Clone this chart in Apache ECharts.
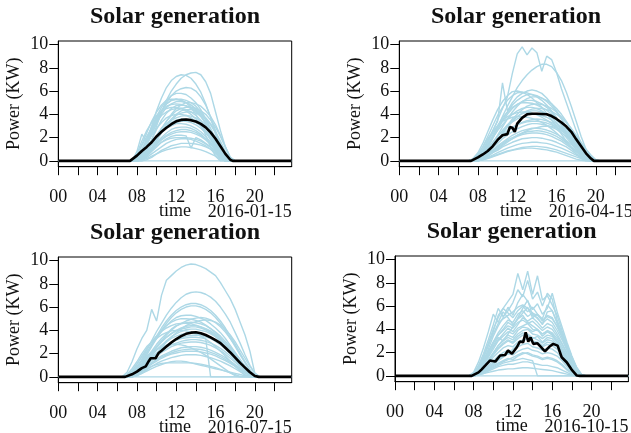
<!DOCTYPE html>
<html>
<head>
<meta charset="utf-8">
<script src="https://cdn.jsdelivr.net/npm/echarts@6/dist/echarts.min.js"></script>
<style>
html,body{margin:0;padding:0;background:#fff;}
#chart{width:631px;height:433px;}
</style>
</head>
<body>
<div id="chart"></div>
<script>
// ---------- DATA ----------
const panelTitles = ['Solar generation','Solar generation','Solar generation','Solar generation'];
const panelDates = ['2016-01-15','2016-04-15','2016-07-15','2016-10-15'];
const xTickValues = [0,2,4,6,8,10,12,14,16,18,20,22];
const xLabelValues = [0,4,8,12,16,20];
const yTickValues = [0,2,4,6,8,10];
const dayStart = 0, dayEnd = 23.75, nightValue = 0;

// January households (half-hourly, 7.5h .. 18h)
const janTime = [7.5,8,8.5,9,9.5,10,10.5,11,11.5,12,12.5,13,13.5,14,14.5,15,15.5,16,16.5,17,17.5,18];
const janLines = [
 [0,0,0.3,0.9,1.8,3.0,4.2,5.2,6.0,6.6,7.1,7.4,7.55,7.6,7.4,6.8,5.8,4.2,2.6,1.2,0.2,0],
 [0,0.2,0.8,1.8,3.0,4.3,5.4,6.3,6.9,7.25,7.4,7.35,7.1,6.6,5.9,4.9,3.7,2.3,1.0,0.2,0,0],
 [0,0.1,0.5,1.3,2.3,3.3,4.2,5.0,5.6,6.0,6.2,6.3,6.25,6.0,5.5,4.8,3.8,2.6,1.4,0.5,0,0],
 [0,0.3,1.0,1.9,2.9,3.8,4.6,5.2,5.6,5.8,5.8,5.7,5.4,5.0,4.4,3.6,2.7,1.7,0.8,0.1,0,0],
 [0,0.4,1.4,2.4,3.4,4.2,4.8,5.2,5.3,5.3,5.2,5.0,4.8,4.4,3.9,3.2,2.4,1.5,0.6,0,0,0],
 [0,0.1,0.6,1.4,2.3,3.2,4.0,4.6,4.9,5.1,5.1,5.0,4.8,4.5,4.1,3.5,2.7,1.8,0.9,0.2,0,0],
 [0,0,0.3,1.0,1.8,2.7,3.5,4.1,4.5,4.75,4.8,4.75,4.6,4.3,3.9,3.3,2.6,1.8,1.0,0.3,0,0],
 [0,0.5,1.3,2.1,2.8,3.4,3.9,4.2,4.4,4.5,4.5,4.4,4.2,3.9,3.5,2.9,2.2,1.4,0.6,0,0,0],
 [0,0,0,0.4,1.0,1.7,2.4,3.0,3.5,3.9,4.1,4.2,4.2,4.1,3.9,3.6,3.1,2.4,1.5,0.6,0.1,0],
 [0,0.2,0.8,1.5,2.2,2.8,3.3,3.7,3.9,4.0,4.0,3.9,3.7,3.4,3.0,2.5,1.9,1.2,0.5,0,0,0],
 [0,0,0.3,0.8,1.4,2.0,2.5,3.0,3.3,3.5,3.6,3.6,3.5,3.3,3.0,2.6,2.1,1.5,0.8,0.2,0,0],
 [0,0.1,0.5,1.0,1.5,2.0,2.4,2.8,3.0,3.2,3.2,3.15,3.0,2.8,2.5,2.1,1.6,1.0,0.4,0,0,0],
 [0,0,0.2,0.6,1.1,1.6,2.0,2.4,2.7,2.85,2.9,2.9,2.8,2.6,2.3,1.9,1.5,1.0,0.5,0.1,0,0],
 [0,0,0.2,0.6,1.0,1.4,1.8,2.1,2.3,2.45,2.5,2.5,2.45,2.3,2.1,1.8,1.4,0.9,0.4,0,0,0],
 [0,0,0.1,0.4,0.8,1.2,1.6,1.9,2.1,2.2,2.2,2.15,1.1,2.0,1.8,1.5,1.2,0.8,0.3,0,0,0],
 [0,0,0.1,0.3,0.6,0.9,1.2,1.5,1.7,1.85,1.9,1.9,1.85,1.7,1.5,1.3,1.0,0.6,0.2,0,0,0],
 [0,0,0,0.1,0.3,0.6,0.9,1.1,1.3,1.4,1.5,1.5,1.5,1.45,1.35,1.2,1.0,0.7,0.3,0,0,0],
 [0,0.8,2.3,1.6,2.6,3.5,4.3,4.9,5.2,5.3,5.2,5.0,4.6,4.0,3.2,2.2,1.2,0.4,0,0,0,0],
 [0,0,0,0,0,0,0,0,0,0,0,0,0,0,0,0,0,0,0,0,0,0],
 [0,0,0.2,0.7,1.4,2.1,2.8,3.4,3.9,4.3,4.5,4.6,4.6,4.5,4.3,4.0,3.5,2.9,2.1,1.2,0.3,0],
 [0,0,0.1,0.5,1.1,1.9,2.7,3.4,4.0,4.5,4.8,5.0,5.0,4.9,4.7,4.3,3.8,3.1,2.2,1.2,0.3,0],
 [0,0.1,0.4,1.0,1.6,2.2,2.8,3.2,3.5,3.7,3.85,3.9,3.85,3.7,3.45,3.1,2.6,2.0,1.3,0.5,0,0],
 [0,0.2,0.9,1.8,2.8,3.7,4.3,4.7,4.85,4.9,4.85,4.7,4.5,4.2,3.8,3.2,2.5,1.6,0.8,0.1,0,0],
 [0,0,0.1,0.5,1.1,1.8,2.5,3.1,3.6,4.0,4.3,4.4,4.4,4.3,4.1,3.7,3.2,2.5,1.7,0.8,0.1,0],
 [0,0.1,0.5,1.1,1.6,2.1,2.5,2.9,3.15,3.3,3.4,3.4,3.3,3.1,2.8,2.4,1.9,1.3,0.6,0.1,0,0],
 [0,0,0.3,0.7,1.1,1.5,1.9,2.2,2.45,2.6,2.7,2.7,2.6,2.45,2.2,1.9,1.5,1.0,0.5,0,0,0],
 [0,0.1,0.6,1.5,2.5,3.5,4.3,4.9,5.2,5.3,5.3,5.2,5.0,4.7,4.2,3.6,2.8,1.9,1.0,0.3,0,0],
 [0,0.6,1.7,2.6,3.3,3.9,4.3,4.5,4.6,4.6,4.5,4.3,4.0,3.6,3.1,2.5,1.8,1.1,0.4,0,0,0],
 [0,0,0.2,0.5,0.9,1.3,1.6,1.8,1.95,2.0,2.0,2.0,1.95,1.85,1.7,1.45,1.15,0.8,0.35,0,0,0],
 [0,0,0.1,0.2,0.4,0.6,0.8,0.95,1.05,1.15,1.2,1.2,1.15,1.05,0.95,0.8,0.6,0.4,0.15,0,0,0]
];
const janMeanTime = [7.3,7.5,8,8.5,9,9.5,10,10.5,11,11.5,12,12.5,13,13.5,14,14.5,15,15.5,16,16.5,17,17.5,17.75,18];
const janMean = [0,0.1,0.45,0.85,1.2,1.6,2.1,2.5,2.85,3.15,3.4,3.52,3.55,3.5,3.38,3.18,2.88,2.45,1.9,1.25,0.6,0.1,0,0];

// April households (half-hourly, 7h .. 20.5h)
const aprTime = [7,7.5,8,8.5,9,9.5,10,10.5,11,11.5,12,12.5,13,13.5,14,14.5,15,15.5,16,16.5,17,17.5,18,18.5,19,19.5,20,20.5];
const aprLines = [
 [0,0,0.3,0.8,1.6,2.5,3.5,4.5,5.5,7.5,9.2,9.8,9.1,9.7,9.3,7.7,9.0,8.7,7.6,6.2,5.0,3.8,2.6,1.5,0.6,0.1,0,0],
 [0,0,0.2,0.6,1.2,2.0,2.9,3.8,4.7,5.5,6.3,6.9,7.4,7.8,8.1,8.3,8.3,8.1,7.6,6.9,5.9,4.7,3.4,2.1,1.0,0.3,0,0],
 [0,0,0.3,0.9,1.7,2.6,3.4,6.7,4.3,5.0,5.5,5.8,6.0,6.1,6.0,5.8,5.4,4.9,4.3,3.6,2.9,2.2,1.5,0.9,0.4,0.1,0,0],
 [0,0.1,0.5,1.2,2.1,3.0,3.9,4.6,5.2,5.6,5.85,5.9,5.85,5.7,5.5,5.2,4.8,4.3,3.7,3.0,2.3,1.6,1.0,0.5,0.1,0,0,0],
 [0,0,0.1,0.4,0.9,1.5,2.2,2.9,3.6,4.2,4.7,5.1,5.35,5.5,5.5,5.4,5.2,4.9,4.5,4.0,3.4,2.7,2.0,1.3,0.7,0.2,0,0],
 [0,0,0.2,0.7,1.3,2.0,2.7,3.4,4.0,4.5,4.85,5.1,5.2,5.2,5.1,4.9,4.6,4.2,3.7,3.1,2.5,1.8,1.2,0.6,0.2,0,0,0],
 [0,0,0,0.2,0.6,1.1,1.7,2.4,3.0,3.6,4.0,4.4,4.7,4.85,4.9,4.85,4.7,4.5,4.2,3.8,3.3,2.7,2.1,1.5,0.9,0.4,0.05,0],
 [0,0,0.3,0.8,1.4,2.0,2.6,3.1,3.6,4.0,4.3,4.5,4.6,4.6,4.5,4.3,4.0,3.7,3.3,2.8,2.3,1.7,1.2,0.7,0.3,0,0,0],
 [0,0,0.1,0.5,1.0,1.5,2.1,2.6,3.1,3.5,3.8,4.05,4.2,4.3,4.3,4.2,4.0,3.8,3.5,3.1,2.7,2.2,1.6,1.1,0.6,0.2,0,0],
 [0,0,0.2,0.6,1.1,1.6,2.1,2.6,3.0,3.35,3.6,3.8,3.95,4.0,4.0,3.9,3.75,3.5,3.2,2.85,2.4,1.9,1.4,0.9,0.4,0.1,0,0],
 [0,0,0.1,0.4,0.8,1.2,1.7,2.1,2.5,2.85,3.1,3.3,3.45,3.55,3.6,3.55,3.45,3.3,3.05,2.75,2.4,2.0,1.5,1.0,0.5,0.15,0,0],
 [0,0,0.1,0.3,0.7,1.1,1.5,1.9,2.2,2.5,2.75,2.95,3.1,3.2,3.2,3.15,3.05,2.9,2.7,2.4,2.1,1.7,1.3,0.9,0.5,0.1,0,0],
 [0,0,0.1,0.3,0.6,0.9,1.3,1.6,1.9,2.2,2.4,2.6,2.7,2.8,2.8,2.75,2.65,2.5,2.3,2.05,1.75,1.4,1.0,0.6,0.25,0,0,0],
 [0,0,0,0.2,0.5,0.8,1.1,1.4,1.7,1.9,2.1,2.25,2.35,2.4,2.4,2.35,2.25,2.1,1.9,1.7,1.4,1.1,0.8,0.5,0.2,0,0,0],
 [0,0,0,0.2,0.4,0.7,0.9,1.2,1.4,1.6,1.75,1.9,1.95,2.0,2.0,1.95,1.85,1.75,1.6,1.4,1.2,0.9,0.6,0.35,0.1,0,0,0],
 [0,0,0,0.1,0.3,0.5,0.7,0.9,1.1,1.25,1.4,1.5,1.55,1.6,1.6,1.55,1.5,1.4,1.25,1.1,0.9,0.7,0.5,0.3,0.1,0,0,0],
 [0,0,0,0.1,0.2,0.35,0.5,0.65,0.8,0.9,1.0,1.05,1.1,1.1,1.05,1.0,0.95,0.85,0.75,0.6,0.45,0.3,0.15,0.05,0,0,0,0],
 [0,0,0,0,0,0,0,0,0,0,0,0,0,0,0,0,0,0,0,0,0,0,0,0,0,0,0,0],
 [0,0.2,0.7,1.5,2.5,3.5,4.4,5.1,5.6,5.95,6.0,5.9,5.7,5.4,5.0,4.6,4.1,3.5,2.9,2.3,1.7,1.1,0.6,0.2,0,0,0,0],
 [0,0.1,0.6,1.2,1.9,2.5,3.0,3.4,3.6,3.75,3.8,3.8,3.75,3.65,3.5,3.3,3.05,2.75,2.4,2.0,1.6,1.2,0.8,0.4,0.1,0,0,0],
 [0,0,0.2,0.7,1.4,2.2,3.0,3.7,4.2,4.6,4.85,5.0,5.0,4.95,4.8,4.6,4.35,4.0,3.6,3.1,2.5,1.9,1.3,0.7,0.3,0,0,0],
 [0,0,0,0.2,0.6,1.1,1.7,2.3,2.9,3.4,3.8,4.1,4.3,4.45,4.5,4.5,4.4,4.25,4.0,3.7,3.3,2.8,2.2,1.6,1.0,0.5,0.1,0],
 [0,0,0.1,0.4,0.8,1.3,1.8,2.2,2.6,2.9,3.1,3.25,3.35,3.4,3.4,3.35,3.25,3.1,2.9,2.6,2.25,1.85,1.4,0.95,0.5,0.15,0,0],
 [0,0,0.2,0.6,1.2,1.9,2.7,3.5,4.2,4.8,5.2,5.5,5.7,5.7,5.6,5.4,5.1,4.7,4.2,3.6,2.9,2.2,1.5,0.8,0.3,0,0,0],
 [0,0.1,0.4,1.0,1.7,2.4,3.0,3.5,3.8,4.0,4.15,4.2,4.2,4.1,3.95,3.75,3.5,3.2,2.85,2.45,2.0,1.5,1.0,0.55,0.2,0,0,0],
 [0,0,0.1,0.3,0.6,0.9,1.2,1.5,1.8,2.0,2.2,2.35,2.5,2.55,2.6,2.55,2.45,2.3,2.1,1.85,1.55,1.2,0.85,0.5,0.2,0,0,0],
 [0,0,0,0.2,0.4,0.7,1.0,1.3,1.6,1.9,2.2,2.4,2.6,2.75,2.85,2.95,3.0,2.95,2.85,2.7,2.45,2.1,1.7,1.25,0.8,0.35,0.05,0],
 [0,0,0,0.1,0.25,0.4,0.55,0.7,0.85,0.95,1.05,1.15,1.2,1.25,1.25,1.2,1.15,1.05,0.95,0.8,0.65,0.5,0.35,0.2,0.05,0,0,0]
];
const aprMeanTime = [7.3,7.5,8,8.5,9,9.5,10,10.5,11,11.25,11.5,11.75,12,12.5,13,13.5,14,14.5,15,15.5,16,16.5,17,17.5,18,18.5,19,19.5,19.8];
const aprMean = [0,0.08,0.3,0.55,0.85,1.25,1.8,2.2,2.3,2.9,2.85,2.5,3.2,3.7,4.0,4.05,4.05,4.03,4.0,3.85,3.6,3.3,2.95,2.5,1.85,1.25,0.65,0.2,0];

// July households (half-hourly, 6.5h .. 21h)
const julTime = [6.5,7,7.5,8,8.5,9,9.5,10,10.5,11,11.5,12,12.5,13,13.5,14,14.5,15,15.5,16,16.5,17,17.5,18,18.5,19,19.5,20,20.5,21];
const julLines = [
 [0,0.4,1.3,2.4,3.3,4.0,5.8,4.8,7.0,8.3,8.7,9.1,9.4,9.6,9.7,9.65,9.5,9.3,9.0,8.7,8.1,7.4,6.7,5.8,4.7,3.6,2.2,0.3,0,0],
 [0,0,0.3,0.8,1.5,2.3,3.1,3.9,4.6,5.3,5.9,6.4,6.8,7.1,7.25,7.3,7.25,7.1,6.85,6.5,6.0,5.4,4.7,3.8,2.9,1.9,1.0,0.3,0,0],
 [0,0,0.3,0.8,1.4,2.1,2.8,3.5,4.2,4.8,5.3,5.7,6.0,6.2,6.3,6.3,6.2,6.0,5.7,5.3,4.8,4.2,3.5,2.8,2.0,1.3,0.6,0.1,0,0],
 [0,0,0.2,0.6,1.2,1.9,2.6,3.3,4.0,4.6,5.1,5.5,5.8,6.0,6.1,6.1,6.0,5.8,5.5,5.1,4.6,4.0,3.3,2.6,1.9,1.2,0.5,0.1,0,0],
 [0,0,0.3,0.8,1.4,2.0,2.7,3.3,3.9,4.4,4.8,5.1,5.25,5.3,5.3,5.2,5.05,4.85,4.55,4.2,3.8,3.3,2.7,2.1,1.5,0.9,0.4,0,0,0],
 [0,0.1,0.5,1.1,1.7,2.4,3.0,3.5,4.0,4.4,4.7,4.9,5.0,5.0,4.95,4.85,4.7,4.45,4.15,3.8,3.35,2.85,2.3,1.7,1.1,0.6,0.2,0,0,0],
 [0,0,0.2,0.6,1.1,1.7,2.2,2.8,3.3,3.7,4.1,4.4,4.55,4.65,4.7,4.65,4.55,4.4,4.15,3.85,3.5,3.05,2.55,2.0,1.45,0.9,0.4,0.1,0,0],
 [0,0,0.2,0.5,1.0,1.5,2.0,2.5,3.0,3.4,3.75,4.0,4.2,4.35,4.4,4.4,4.3,4.15,3.95,3.65,3.3,2.9,2.4,1.9,1.35,0.8,0.35,0.05,0,0],
 [0,0,0.1,0.4,0.8,1.3,1.8,2.3,2.7,3.1,3.45,3.7,3.9,4.05,4.1,4.1,4.0,3.9,3.7,3.45,3.15,2.8,2.35,1.9,1.4,0.9,0.45,0.1,0,0],
 [0,0,0.2,0.6,1.0,1.5,1.9,2.3,2.7,3.0,3.3,3.5,3.65,3.75,3.8,3.75,3.65,3.5,3.3,3.05,2.75,2.4,2.0,1.55,1.1,0.65,0.25,0,0,0],
 [0,0,0.1,0.4,0.8,1.2,1.6,2.0,2.4,2.7,2.95,3.15,3.3,3.35,3.4,3.4,3.35,3.3,0,0,0,0,0,0,0,0,0,0,0,0],
 [0,0,0.1,0.3,0.7,1.0,1.4,1.75,2.1,2.35,2.6,2.75,2.9,2.95,3.0,3.0,2.95,2.85,2.7,2.5,2.25,1.95,1.6,1.25,0.9,0.55,0.2,0,0,0],
 [0,0,0.1,0.3,0.6,0.9,1.2,1.5,1.8,2.0,2.2,2.35,2.5,2.55,2.6,2.6,2.55,2.45,2.3,2.1,1.9,1.65,1.35,1.05,0.75,0.45,0.15,0,0,0],
 [0,0,0,0.2,0.5,0.8,1.1,1.35,1.6,1.8,1.95,2.05,2.15,2.2,2.2,2.2,2.15,2.05,1.95,1.8,1.6,1.4,1.15,0.9,0.6,0.35,0.1,0,0,0],
 [0,0,0,0.2,0.4,0.7,0.9,1.15,1.35,1.5,1.65,1.75,1.85,1.9,1.9,1.9,1.85,1.75,1.65,1.5,1.35,1.15,0.95,0.7,0.45,0.2,0,0,0,0],
 [0,0,0,0.1,0.3,0.6,0.9,1.05,1.15,1.2,1.2,1.2,1.2,1.2,1.2,1.15,1.1,1.0,0.9,0.8,0.65,0.5,0.35,0.2,0.05,0,0,0,0,0],
 [0,0,0,0,0,0,0,0,0,0,0,0,0,0,0,0,0,0,0,0,0,0,0,0,0,0,0,0,0,0],
 [0,0.2,0.7,1.3,2.0,2.6,3.0,3.3,3.6,3.8,3.95,4.0,4.0,3.95,3.85,3.7,3.5,3.25,2.95,2.6,2.2,1.8,1.35,0.9,0.5,0.15,0,0,0,0],
 [0,0,0,0.2,0.6,1.0,1.5,2.0,2.5,3.0,3.4,3.8,4.1,4.4,4.6,4.75,4.85,4.9,4.85,4.7,4.45,4.1,3.6,3.0,2.3,1.6,0.9,0.3,0,0],
 [0,0,0.2,0.6,1.1,1.6,2.1,2.6,3.0,3.4,3.7,3.95,4.1,4.2,4.3,4.3,4.2,4.05,3.85,3.55,3.2,2.8,2.3,1.8,1.3,0.8,0.35,0.05,0,0],
 [0,0,0.1,0.4,0.8,1.2,1.6,2.0,2.35,2.7,2.95,3.2,3.35,3.5,3.55,3.6,3.55,3.45,3.3,3.1,2.85,2.5,2.15,1.7,1.25,0.8,0.35,0.05,0,0],
 [0,0.1,0.5,1.1,1.8,2.4,3.0,3.5,3.9,4.2,4.4,4.55,4.6,4.6,4.55,4.45,4.3,4.1,3.8,3.45,3.05,2.6,2.1,1.6,1.1,0.6,0.2,0,0,0],
 [0,0,0.1,0.3,0.6,0.9,1.2,1.5,1.7,1.9,2.05,2.2,2.3,2.35,2.4,2.4,2.35,2.25,2.1,1.95,1.75,1.5,1.25,0.95,0.65,0.35,0.1,0,0,0],
 [0,0,0.1,0.4,0.9,1.4,2.0,2.6,3.1,3.6,4.0,4.35,4.6,4.8,4.95,5.05,5.1,5.05,4.9,4.65,4.3,3.85,3.3,2.7,2.0,1.3,0.6,0.1,0,0],
 [0,0,0.2,0.5,0.9,1.3,1.7,2.0,2.3,2.55,2.75,2.9,3.05,3.15,3.2,3.2,3.15,3.05,2.9,2.7,2.45,2.15,1.8,1.4,1.0,0.6,0.25,0,0,0],
 [0,0,0,0.1,0.3,0.5,0.7,0.9,1.05,1.2,1.3,1.35,1.35,1.3,1.2,1.1,1.0,0.9,0.8,0.7,0.6,0.5,0.4,0.3,0.2,0.1,0,0,0,0],
 [0,0.1,0.4,0.9,1.4,1.8,2.1,2.35,2.55,2.7,2.8,2.8,2.75,2.65,2.5,2.3,2.1,1.85,1.55,1.25,0.95,0.65,0.35,0.1,0,0,0,0,0,0]
];
const julMeanTime = [6.8,7,7.5,8,8.5,8.9,9.2,9.4,9.9,10.2,10.5,11,11.5,12,12.5,13,13.5,14,14.5,15,15.5,16,16.5,17,17.5,18,18.5,19,19.5,20,20.4];
const julMean = [0,0.05,0.22,0.45,0.75,0.9,1.35,1.6,1.6,2.05,2.25,2.6,2.95,3.25,3.5,3.7,3.8,3.84,3.75,3.6,3.4,3.15,2.9,2.5,2.1,1.65,1.2,0.8,0.4,0.08,0];

// October households (half-hourly, 7.5h .. 19.5h)
const octTime = [7.5,8,8.5,9,9.5,10,10.5,11,11.5,12,12.5,13,13.5,14,14.5,15,15.5,16,16.5,17,17.5,18,18.5,19,19.5];
const octLines = [
 [0,0.1,0.6,1.5,2.6,3.8,5.2,5.8,6.4,7.0,8.8,7.4,9.0,7.0,8.6,6.5,6.9,6.1,5.2,3.9,2.7,1.6,0.6,0.1,0],
 [0,0.2,0.9,1.9,3.1,4.4,5.8,5.1,5.6,6.3,7.4,6.8,8.2,6.6,7.2,6.0,7.1,6.6,4.8,3.6,2.5,1.4,0.5,0,0],
 [0,0.1,0.5,1.3,2.3,3.4,4.3,5.0,5.9,5.2,6.3,7.0,6.4,5.7,6.2,5.3,5.8,7.1,5.5,4.2,2.9,1.7,0.7,0.1,0],
 [0,0.1,0.7,1.6,2.7,3.6,4.5,4.9,5.2,5.5,5.9,6.1,5.8,5.4,5.2,4.8,5.1,4.9,4.3,3.4,2.4,1.4,0.5,0,0],
 [0,0,0.4,1.1,2.0,2.9,3.7,4.3,4.8,4.6,5.3,5.6,5.1,5.4,4.9,4.5,4.9,4.6,3.9,3.1,2.2,1.3,0.5,0,0],
 [0,0.1,0.6,1.3,2.1,2.9,3.5,3.9,4.3,4.1,4.6,4.8,4.5,4.7,4.3,3.9,4.2,4.0,3.4,2.7,1.9,1.1,0.4,0,0],
 [0,0,0.3,0.9,1.6,2.3,3.0,3.4,3.8,3.6,4.1,4.3,4.5,4.0,3.9,3.6,3.9,3.7,3.2,2.5,1.7,1.0,0.3,0,0],
 [0,0,0.3,0.8,1.4,2.0,2.6,3.0,3.3,3.1,3.6,3.9,4.0,3.6,3.5,3.2,3.5,3.4,2.9,2.2,1.5,0.8,0.2,0,0],
 [0,0,0.2,0.7,1.2,1.8,2.3,2.7,3.0,2.8,3.2,3.5,3.6,3.3,3.1,2.8,3.1,3.0,2.6,2.0,1.3,0.7,0.2,0,0],
 [0,0,0.2,0.6,1.1,1.6,2.0,2.4,2.6,2.5,2.9,3.1,3.2,2.9,2.8,2.5,2.7,2.6,2.3,1.8,1.2,0.6,0.1,0,0],
 [0,0,0.2,0.5,0.9,1.3,1.7,2.0,2.2,2.1,2.5,2.7,2.8,2.5,2.4,2.2,2.4,2.3,2.0,1.5,1.0,0.5,0.1,0,0],
 [0,0,0.1,0.4,0.8,1.1,1.4,1.7,1.9,1.8,2.1,2.3,2.4,2.2,2.1,1.9,2.0,1.9,1.7,1.3,0.8,0.4,0.1,0,0],
 [0,0,0.1,0.3,0.6,0.9,1.1,1.3,1.5,1.4,1.7,1.9,2.0,1.8,1.7,1.5,1.6,1.5,1.3,1.0,0.6,0.3,0,0,0],
 [0,0,0.1,0.2,0.4,0.6,0.8,0.9,1.0,1.0,1.1,1.2,1.2,1.1,1.0,0.9,0.9,0.8,0.7,0.5,0.3,0.1,0,0,0],
 [0,0,0.1,0.3,0.5,0.7,0.9,1.1,1.2,1.3,1.4,1.5,1.4,1.3,0,0,0,0,0,0,0,0,0,0,0],
 [0,0,0,0,0,0,0,0,0,0,0,0,0,0,0,0,0,0,0,0,0,0,0,0,0],
 [0,0.3,1.2,2.4,3.8,5.3,4.6,5.5,5.0,4.4,4.9,5.2,4.6,4.3,4.0,3.6,3.8,3.5,2.9,2.1,1.3,0.6,0.1,0,0],
 [0,0,0.3,0.9,1.7,2.6,3.3,3.0,3.6,4.2,5.0,5.8,6.5,5.2,5.0,4.4,5.5,5.6,4.6,3.7,2.7,1.6,0.7,0.1,0],
 [0,0.1,0.4,1.0,1.8,2.5,3.1,3.6,4.1,3.8,4.4,5.0,4.7,5.0,4.6,4.1,4.5,4.3,3.6,2.8,2.0,1.2,0.4,0,0],
 [0,0,0.1,0.4,0.7,1.0,1.3,1.6,1.9,2.3,2.7,3.0,3.2,3.0,2.9,2.6,2.9,2.8,2.5,2.0,1.4,0.8,0.3,0,0],
 [0,0.1,0.5,1.2,2.0,2.8,3.5,4.0,4.6,4.3,4.9,5.4,5.9,5.0,5.3,4.7,5.2,5.0,4.2,3.3,2.3,1.3,0.5,0,0],
 [0,0,0.2,0.6,1.2,1.9,2.6,3.1,3.5,3.3,3.9,4.2,4.1,3.8,4.0,3.4,3.8,3.6,3.0,2.3,1.6,0.9,0.3,0,0],
 [0,0,0.3,0.8,1.3,1.9,2.4,2.8,3.1,2.9,3.4,3.7,3.5,3.2,3.4,2.9,3.3,3.2,2.7,2.1,1.4,0.7,0.2,0,0],
 [0,0,0.1,0.3,0.5,0.8,1.0,1.2,1.4,1.6,1.8,2.0,1.9,1.7,1.6,1.4,1.5,1.4,1.2,0.9,0.5,0.2,0,0,0],
 [0,0.2,0.8,1.7,2.8,4.0,5.0,5.8,5.4,5.0,5.6,6.0,5.5,5.9,5.3,4.9,6.1,5.6,4.5,3.4,2.4,1.3,0.5,0,0],
 [0,0,0.1,0.2,0.3,0.4,0.5,0.55,0.6,0.6,0.65,0.7,0.7,0.65,0.6,0.55,0.5,0.45,0.35,0.25,0.15,0.05,0,0,0]
];
const octMeanTime = [7.8,8,8.5,8.8,9.2,9.66,10.2,10.7,11.2,11.5,11.9,12.4,12.7,13.05,13.3,13.56,13.8,14.07,14.5,15.26,15.77,16.1,16.55,16.96,17.47,17.97,18.5,18.8];
const octMean = [0,0.08,0.3,0.54,0.9,1.32,1.23,1.75,1.8,2.18,1.9,2.46,2.95,2.9,3.75,2.95,3.3,2.75,2.8,2.1,2.55,2.75,2.6,1.6,1.17,0.54,0.03,0];

// ---------- CHART ----------
const FONT = '"Liberation Serif", "Times New Roman", serif';
const TXT = '#111';
const panels = [
  {time: janTime, lines: janLines, meanT: janMeanTime, mean: janMean},
  {time: aprTime, lines: aprLines, meanT: aprMeanTime, mean: aprMean},
  {time: julTime, lines: julLines, meanT: julMeanTime, mean: julMean},
  {time: octTime, lines: octLines, meanT: octMeanTime, mean: octMean}
];
const boxes = [
  {left: 58.3, top: 41},
  {left: 399.3, top: 41},
  {left: 58.3, top: 257},
  {left: 395, top: 256}
];
const W = 233.4, H = 125.7;

const grid = [], xAxis = [], yAxis = [], series = [], graphic = [];
boxes.forEach((b, i) => {
  grid.push({left: b.left, top: b.top, width: W, height: H, show: true,
    borderColor: '#000', borderWidth: 1, backgroundColor: 'transparent',
    containLabel: false, outerBoundsMode: 'none'});
  xAxis.push({
    gridIndex: i, type: 'value', min: dayStart, max: dayEnd,
    axisLine: {show: true, onZero: false, lineStyle: {color: '#000', width: 1}},
    axisTick: {show: true, length: 8.5, customValues: xTickValues, lineStyle: {color: '#000', width: 1}},
    axisLabel: {customValues: xLabelValues, formatter: v => String(v).padStart(2, '0'),
      fontFamily: FONT, fontSize: 18, color: TXT, margin: 21.5},
    splitLine: {show: false},
    name: 'time', nameLocation: 'middle', nameGap: 36, nameMoveOverlap: false,
    nameTextStyle: {fontFamily: FONT, fontSize: 18, color: TXT}
  });
  yAxis.push({
    gridIndex: i, type: 'value', min: -0.5, max: 10.3,
    axisLine: {show: true, onZero: false, lineStyle: {color: '#000', width: 1}},
    axisTick: {show: true, length: 9, customValues: yTickValues, lineStyle: {color: '#000', width: 1}},
    axisLabel: {customValues: yTickValues, fontFamily: FONT, fontSize: 18, color: TXT, margin: 10},
    splitLine: {show: false},
    name: 'Power (KW)', nameLocation: 'middle', nameRotate: 90, nameGap: 35, nameMoveOverlap: false,
    nameTextStyle: {fontFamily: FONT, fontSize: 18, color: TXT}
  });
  const p = panels[i];
  p.lines.forEach(line => {
    const pts = [[dayStart, nightValue]];
    p.time.forEach((t, k) => pts.push([t, line[k]]));
    pts.push([dayEnd, nightValue]);
    series.push({type: 'line', xAxisIndex: i, yAxisIndex: i, data: pts, symbol: 'none',
      silent: true, lineStyle: {color: '#ADD8E6', width: 1.4}, z: 2});
  });
  const mpts = [[dayStart, nightValue]];
  p.meanT.forEach((t, k) => mpts.push([t, p.mean[k]]));
  mpts.push([dayEnd, nightValue]);
  series.push({type: 'line', xAxisIndex: i, yAxisIndex: i, data: mpts, symbol: 'none',
    silent: true, lineStyle: {color: '#000', width: 2.6}, z: 3});

  graphic.push({type: 'text', x: b.left + W / 2, y: b.top - 24.5,
    style: {text: panelTitles[i], font: 'bold 24px ' + FONT, fill: TXT, align: 'center', verticalAlign: 'middle'}});
  graphic.push({type: 'text', x: b.left + W, y: b.top + H + 46,
    style: {text: panelDates[i], font: '18px ' + FONT, fill: TXT, align: 'right', verticalAlign: 'middle'}});
});

const chart = echarts.init(document.getElementById('chart'), null, {renderer: 'canvas'});
chart.setOption({
  animation: false,
  backgroundColor: '#fff',
  grid, xAxis, yAxis, series, graphic
});
</script>
</body>
</html>
